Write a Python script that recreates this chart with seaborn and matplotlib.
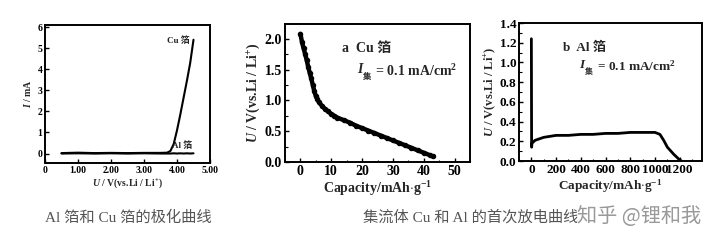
import matplotlib
matplotlib.use("Agg")
import matplotlib.pyplot as plt
import seaborn as sns
import pandas as pd
from matplotlib.ticker import AutoMinorLocator

# ---------------- data ----------------
# Panel 1: polarization curves
pol_voltage = [0.5, 1.0, 1.5, 2.0, 2.5, 3.0, 3.5, 3.7, 3.8, 3.9, 4.0, 4.1, 4.2, 4.3, 4.4, 4.5]
pol_cu_current = [0.02, 0.04, 0.02, 0.03, 0.02, 0.03, 0.03, 0.04, 0.12, 0.45, 1.1, 1.85, 2.65, 3.45, 4.3, 5.4]
pol_al_current = [0.0, 0.01, 0.0, 0.01, 0.0, 0.01, 0.0, 0.0, 0.0, 0.01, 0.0, 0.01, 0.0, 0.01, 0.0, 0.01]

# Panel 2: Cu first discharge
cu_capacity = [0, 0.5, 1, 1.5, 2, 2.5, 3, 3.5, 4, 4.5, 5, 5.5, 6, 7, 8, 9, 10, 11, 12,
               14, 16, 18, 20, 22, 24, 26, 28, 30, 32, 34, 36, 38, 40, 42, 43]
cu_voltage = [2.08, 1.95, 1.85, 1.76, 1.66, 1.55, 1.45, 1.36, 1.25, 1.15, 1.07, 1.02, 0.97,
              0.91, 0.86, 0.82, 0.78, 0.75, 0.72, 0.68, 0.64, 0.59, 0.55, 0.51, 0.47, 0.43,
              0.39, 0.35, 0.31, 0.27, 0.23, 0.19, 0.15, 0.11, 0.09]

# Panel 3: Al first discharge
al_capacity = [0, 2, 5, 30, 100, 200, 300, 400, 500, 600, 700, 800, 900, 1000, 1040,
               1070, 1100, 1150, 1200, 1215]
al_voltage = [1.24, 0.14, 0.18, 0.21, 0.24, 0.26, 0.26, 0.27, 0.27, 0.28, 0.28, 0.29, 0.29,
              0.29, 0.27, 0.21, 0.14, 0.07, 0.01, 0.0]

pol_xticks = [0, 1, 2, 3, 4, 5]
pol_xticklabels = ["0", "1.00", "2.00", "3.00", "4.00", "5.00"]
pol_yticks = [0, 1, 2, 3, 4, 5, 6]
cu_xticks = [0, 10, 20, 30, 40, 50]
cu_yticks = [0.0, 0.5, 1.0, 1.5, 2.0]
al_xticks = [0, 200, 400, 600, 800, 1000, 1200]
al_yticks = [0.0, 0.2, 0.4, 0.6, 0.8, 1.0, 1.2, 1.4]

# ---------------- style ----------------
sns.set_theme(style="ticks")
plt.rcParams['font.family'] = ['Liberation Serif', 'Noto Sans CJK SC']
plt.rcParams['font.weight'] = 'bold'
plt.rcParams['mathtext.fontset'] = 'custom'
plt.rcParams['mathtext.rm'] = 'Liberation Serif:bold'
plt.rcParams['mathtext.it'] = 'Liberation Serif:italic:bold'
plt.rcParams['mathtext.bf'] = 'Liberation Serif:bold'
plt.rcParams['axes.linewidth'] = 1.4
plt.rcParams['axes.edgecolor'] = 'black'
for a in ['x', 'y']:
    plt.rcParams[f'{a}tick.direction'] = 'in'
    plt.rcParams[f'{a}tick.major.size'] = 3
    plt.rcParams[f'{a}tick.minor.size'] = 1.8
    plt.rcParams[f'{a}tick.major.width'] = 1.0
    plt.rcParams[f'{a}tick.minor.width'] = 0.8
    plt.rcParams[f'{a}tick.color'] = 'black'

fig = plt.figure(figsize=(7.27, 2.49), dpi=100)
fig.patch.set_facecolor('white')

ax1 = fig.add_axes([45/727, 86/249, 165/727, 138/249])
ax2 = fig.add_axes([285/727, 87/249, 185/727, 138/249])
ax3 = fig.add_axes([519/727, 88/249, 183/727, 138/249])

ylab = r"$U$ / V(vs.Li / Li$^{+}$)"
caplab = r"Capacity/mAh$\cdot$g$^{-1}$"


def current_label(ax, x, y, size):
    t1 = ax.text(x, y, "I", transform=ax.transAxes, fontsize=size, style="italic",
                 fontweight="bold", ha="left", va="baseline")
    sub = ax.annotate("集", xy=(1.0, 0.0), xycoords=t1, xytext=(0.5, -2.5),
                      textcoords="offset points", fontsize=size * 0.6, fontweight="bold",
                      ha="left", va="baseline")
    ax.annotate(" = 0.1 mA/cm$^{2}$", xy=(1.0, 0.0), xycoords=(sub, t1),
                xytext=(0.5, 0), textcoords="offset points", fontsize=size,
                fontweight="bold", ha="left", va="baseline")


def set_ticks(ax, xt, xl, yt, yl, size):
    ax.set_xticks(xt)
    ax.set_xticklabels(xl, fontsize=size, fontweight="bold")
    ax.set_yticks(yt)
    ax.set_yticklabels(yl, fontsize=size, fontweight="bold")
    ax.tick_params(pad=2)


# ---- panel 1 ----
df1 = pd.DataFrame({"U": pol_voltage, "Cu": pol_cu_current, "Al": pol_al_current})
sns.lineplot(data=df1, x="U", y="Cu", ax=ax1, color="black", lw=1.5)
sns.lineplot(data=df1, x="U", y="Al", ax=ax1, color="black", lw=1.5)
ax1.set_xlim(0, 5)
ax1.set_ylim(-0.45, 6.1)
set_ticks(ax1, pol_xticks, pol_xticklabels, pol_yticks, [str(v) for v in pol_yticks], 7)
ax1.set_xlabel(ylab, fontsize=7, labelpad=1, fontweight="bold")
ax1.set_ylabel(r"$I$ / mA", fontsize=7, labelpad=3, fontweight="bold")
ax1.text(4.38, 5.35, "Cu 箔", fontsize=6.5, ha="right", va="center", fontweight="bold")
ax1.text(4.47, 0.38, "Al 箔", fontsize=6.5, ha="right", va="center", fontweight="bold")

# ---- panel 2 ----
df2 = pd.DataFrame({"cap": cu_capacity, "U": cu_voltage})
sns.lineplot(data=df2, x="cap", y="U", ax=ax2, color="black", lw=3.2,
             marker="o", markersize=3.2, markeredgecolor="black")
ax2.set_xlim(-5, 55)
ax2.set_ylim(0, 2.24)
set_ticks(ax2, cu_xticks, [str(v) for v in cu_xticks], cu_yticks,
          [f"{v:.1f}" for v in cu_yticks], 10)
ax2.xaxis.set_minor_locator(AutoMinorLocator(2))
ax2.yaxis.set_minor_locator(AutoMinorLocator(2))
ax2.set_xlabel(caplab, fontsize=10, labelpad=1, fontweight="bold")
ax2.set_ylabel(ylab, fontsize=10, labelpad=2, fontweight="bold")
ax2.text(0.31, 0.82, "a  Cu 箔", transform=ax2.transAxes, fontsize=10, ha="left",
         va="center", fontweight="bold")
current_label(ax2, 0.39, 0.645, 10)

# ---- panel 3 ----
df3 = pd.DataFrame({"cap": al_capacity, "U": al_voltage})
sns.lineplot(data=df3, x="cap", y="U", ax=ax3, color="black", lw=2.0, sort=False)
ax3.set_xlim(-100, 1380)
ax3.set_ylim(0, 1.4)
set_ticks(ax3, al_xticks, [str(v) for v in al_xticks], al_yticks,
          [f"{v:.1f}" for v in al_yticks], 9.5)
ax3.xaxis.set_minor_locator(AutoMinorLocator(2))
ax3.yaxis.set_minor_locator(AutoMinorLocator(2))
ax3.set_xlabel(caplab, fontsize=9.5, labelpad=1, fontweight="bold")
ax3.set_ylabel(ylab, fontsize=9, labelpad=1, fontweight="bold")
ax3.text(0.24, 0.82, "b  Al 箔", transform=ax3.transAxes, fontsize=9.5, ha="left",
         va="center", fontweight="bold")
current_label(ax3, 0.33, 0.675, 9.5)

for ax in (ax1, ax2, ax3):
    for s in ax.spines.values():
        s.set_visible(True)
        s.set_color("black")
    ax.set_facecolor("white")

# captions
fig.text(128/727, 1 - 218/249, "Al 箔和 Cu 箔的极化曲线", fontsize=11, color="#555555",
         ha="center", va="center", fontweight="normal")
fig.text(363/727, 1 - 217/249, "集流体 Cu 和 Al 的首次放电曲线", fontsize=11, color="#555555",
         ha="left", va="center", fontweight="normal")
fig.text(577/727, 1 - 217/249, "知乎 @锂和我", fontsize=14.5, color="#999999",
         ha="left", va="center", fontweight="normal",
         family=['Noto Sans CJK SC', 'DejaVu Sans'],
         bbox=dict(facecolor="white", edgecolor="none", alpha=0.75, pad=0))

fig.savefig("out.png", dpi=100, facecolor="white")
